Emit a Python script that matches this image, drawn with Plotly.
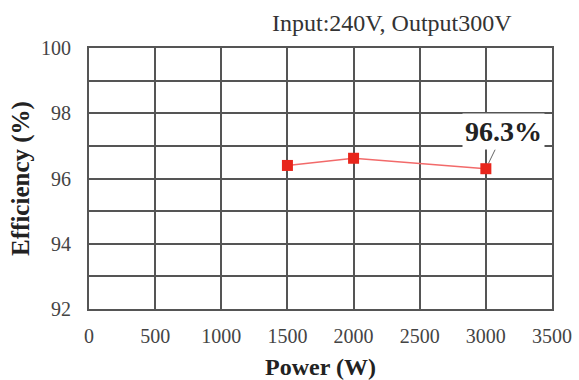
import plotly.graph_objects as go

power = [1500, 2000, 3000]
efficiency = [96.4, 96.62, 96.3]
title_text = "Input:240V, Output300V"
x_ticks = [0, 500, 1000, 1500, 2000, 2500, 3000, 3500]
y_ticks = [92, 94, 96, 98, 100]
callout_text = "96.3%"

SERIF = "Liberation Serif"

fig = go.Figure()
fig.add_trace(go.Scatter(
    x=power, y=efficiency, mode="lines+markers",
    line=dict(color="#f26a6a", width=1.5),
    marker=dict(symbol="square", size=11, color="#e8261c"),
    showlegend=False,
))

fig.add_annotation(
    x=power[-1], y=efficiency[-1], xref="x", yref="y",
    text="<b>" + callout_text + "</b>",
    showarrow=True, arrowhead=0, arrowwidth=1, arrowcolor="#666666",
    ax=18, ay=-37, standoff=6,
    bgcolor="white", borderpad=2,
    font=dict(family=SERIF, size=28, color="#222222"),
)

PW, PH = 579 - 89 - 27, 380 - 48 - 71
fig.add_annotation(
    x=(392 - 89) / PW, y=(380 - 71 - 23) / PH, xref="paper", yref="paper",
    xanchor="center", yanchor="middle", text=title_text,
    showarrow=False, font=dict(family=SERIF, size=24, color="#333333"),
)

fig.update_layout(
    width=579, height=380,
    margin=dict(l=89, r=27, t=48, b=71, autoexpand=False),
    paper_bgcolor="white", plot_bgcolor="white",
)

fig.update_xaxes(
    range=[0, 3500], tickvals=x_ticks, ticktext=[str(v) for v in x_ticks],
    showgrid=True, gridcolor="#555555", gridwidth=1.5,
    showline=True, linecolor="#555555", linewidth=2, mirror=True,
    zeroline=False, ticks="", ticklabelstandoff=8, automargin=False,
    tickfont=dict(family=SERIF, size=20, color="#444444"),
    title=dict(text="<b>Power (W)</b>", standoff=20,
               font=dict(family=SERIF, size=24, color="#222222")),
)
fig.update_yaxes(
    range=[92, 100], tickvals=y_ticks, automargin=False,
    showgrid=True, gridcolor="#555555", gridwidth=1.5,
    showline=True, linecolor="#555555", linewidth=2, mirror=True,
    zeroline=False, ticks="", ticklabelstandoff=12,
    tickfont=dict(family=SERIF, size=20, color="#444444"),
    title=dict(text="<b>Efficiency (%)</b>", standoff=4,
               font=dict(family=SERIF, size=25, color="#222222")),
)
fig.update_yaxes(minor=dict(tickvals=[93, 95, 97, 99], showgrid=True,
                            gridcolor="#555555", gridwidth=1.5, ticks=""))

fig.write_html("out.html")
